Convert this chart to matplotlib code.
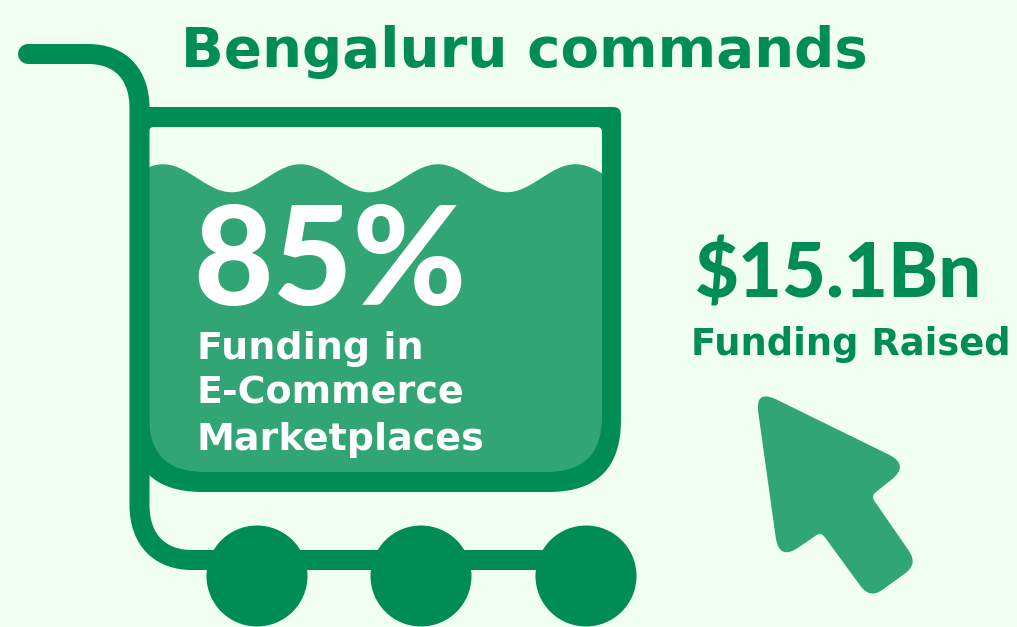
import numpy as np
import matplotlib
matplotlib.use("Agg")
import matplotlib.pyplot as plt
from matplotlib.patches import PathPatch, Circle
from matplotlib.path import Path

title = "Bengaluru commands"
share_pct = 85
share_lines = ["Funding in", "E-Commerce", "Marketplaces"]
raised_bn = 15.1
raised_label = "Funding Raised"

bg = "#F0FFF2"
dark = "#008C55"
light = "#31A574"


def rounded(points, radii):
    # closed polygon with rounded corners
    verts, codes = [], []
    n = len(points)
    for i in range(n):
        p = np.array(points[i], float)
        a = np.array(points[i - 1], float)
        b = np.array(points[(i + 1) % n], float)
        r = radii[i]
        p1 = p + (a - p) / np.linalg.norm(a - p) * r
        p2 = p + (b - p) / np.linalg.norm(b - p) * r
        verts += [p1, p, p2]
        codes += [Path.MOVETO if i == 0 else Path.LINETO, Path.CURVE3, Path.CURVE3]
    verts.append(verts[0])
    codes.append(Path.CLOSEPOLY)
    return Path(verts, codes)


fig = plt.figure(figsize=(10.17, 6.27), dpi=100, facecolor=bg)
ax = fig.add_axes([0, 0, 1, 1])
ax.set_xlim(0, 1017)
ax.set_ylim(627, 0)
ax.axis("off")

# basket fill, level comes from the share
basket_top, basket_bottom = 127, 472
level = basket_bottom - share_pct / 100 * (basket_bottom - basket_top)
wave_x = np.linspace(139, 611, 200)
wave_y = level - 0.5 - 14 * np.cos((wave_x - 163) / 137.5 * 2 * np.pi)
fill_verts = list(zip(wave_x, wave_y)) + [(611, 430), (575, 482), (175, 482), (139, 430)]
ax.add_patch(PathPatch(Path(fill_verts + [fill_verts[0]], closed=True), fc=light, ec="none"))

# basket ring, drawn over the fill
outer = rounded([(130, 107), (621, 107), (621, 492), (130, 492)], [0.1, 8, 72, 72])
inner = rounded([(149, 472), (602, 472), (602, 127), (149, 127)], [55, 55, 5, 5])
ring = Path(np.vstack([outer.vertices, inner.vertices]), np.concatenate([outer.codes, inner.codes]))
ax.add_patch(PathPatch(ring, fc=dark, ec="none"))

# handle and axle
lw = 20 * 72 / 100
frame = Path(
    [(28, 54), (88, 54), (122, 54), (139.5, 76), (139.5, 108), (139.5, 505), (139.5, 540), (160, 560), (192, 560), (586, 560)],
    [Path.MOVETO, Path.LINETO, Path.CURVE4, Path.CURVE4, Path.CURVE4, Path.LINETO, Path.CURVE4, Path.CURVE4, Path.CURVE4, Path.LINETO],
)
ax.add_patch(PathPatch(frame, fc="none", ec=dark, lw=lw, capstyle="round", joinstyle="round"))
for cx in [257, 421, 586]:
    ax.add_patch(Circle((cx, 576), 50.5, fc=dark, ec="none"))

# cursor
arrow = [(755, 389), (910, 465), (871, 496), (918, 564), (870, 599), (821, 532), (779, 561)]
ax.add_patch(PathPatch(rounded(arrow, [24, 24, 6, 16, 16, 6, 24]), fc=light, ec="none"))

heavy = dict(family="DejaVu Sans", weight="bold", va="baseline")
ax.text(181, 67, title, color=dark, fontsize=40.5, **heavy)
ax.text(193, 305, f"{share_pct}%", color="white", fontsize=99, family="Lato", weight=900, va="baseline")
for line, y in zip(share_lines, [359, 403, 450]):
    ax.text(197, y, line, color="white", fontsize=27.4, **heavy)
ax.text(695, 298, f"${raised_bn}Bn", color=dark, fontsize=54.5, family="Lato", weight=900, va="baseline")
ax.text(691, 355, raised_label, color=dark, fontsize=26.6, **heavy)

fig.savefig("out.png", dpi=100, facecolor=bg)
